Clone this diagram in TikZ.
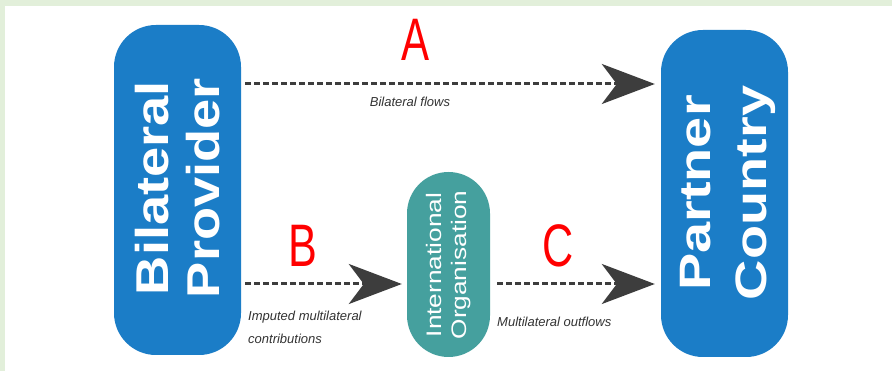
\documentclass[tikz,border=0pt]{standalone}
\usepackage{fontspec}
\setmainfont{Liberation Sans}
\usetikzlibrary{arrows.meta}
\definecolor{bggreen}{HTML}{E2EFDA}
\definecolor{boxblue}{HTML}{1B7DC7}
\definecolor{ioteal}{HTML}{45A09E}
\definecolor{arrowgray}{HTML}{3D3D3D}
\begin{document}
\begin{tikzpicture}[x=1pt,y=-1pt,
  box/.style={fill=boxblue, draw=none, rounded corners=42pt, inner sep=0pt},
  iobox/.style={fill=ioteal, draw=none, rounded corners=41.5pt, inner sep=0pt},
  bigtext/.style={text=white, rotate=90, align=center, inner sep=0pt, font=\fontsize{46}{51}\selectfont\bfseries},
  pctext/.style={text=white, rotate=90, align=center, inner sep=0pt, font=\fontsize{44}{56}\selectfont\bfseries},
  iotext/.style={text=white, rotate=90, align=center, inner sep=0pt, font=\fontsize{21}{25}\selectfont},
  flow/.style={draw=arrowgray, line width=3pt, dash pattern=on 6pt off 3pt, -{Stealth[length=53pt,width=40pt,inset=15pt]}},
  flowlabel/.style={text=black!80, inner sep=0pt, font=\fontsize{13}{15}\selectfont\itshape},
  letter/.style={text=red, inner sep=0pt, font=\fontsize{60}{60}\selectfont}]
\useasboundingbox (0,0) rectangle (892,371);
\fill[bggreen] (0,0) rectangle (892,371);
\fill[white] (5,6) rectangle (892,371);

\node[box, minimum width=127pt, minimum height=330pt] (BP) at (177.5,190) {};
\node[box, minimum width=127pt, minimum height=327pt] (PC) at (724.5,193.5) {};
\node[iobox, minimum width=83pt, minimum height=185pt] (IO) at (448.5,264.5) {};

\node[bigtext] (BPt) at (177.5,188) {\scalebox{1.18}[1]{Bilateral}\\\scalebox{1.18}[1]{Provider}};
\node[pctext] (PCt) at (728,193) {\scalebox{1.27}[1]{Partner}\\\scalebox{1.27}[1]{Country}};
\node[iotext] (IOt) at (448.5,265) {\scalebox{1.25}[1]{International}\\\scalebox{1.25}[1]{Organisation}};

\coordinate (ytop) at (0,84);
\coordinate (ybot) at (0,284);
\draw[flow, shorten <=4pt, shorten >=6pt] (BP.east |- ytop) -- (PC.west |- ytop);
\draw[flow, shorten <=4pt, shorten >=5pt] (BP.east |- ybot) -- (IO.west |- ybot);
\draw[flow, shorten <=7pt, shorten >=6pt] (IO.east |- ybot) -- (PC.west |- ybot);

\node[letter, anchor=base] (A) at (416,61) {\scalebox{0.7}[1]{A}};
\node[letter, anchor=base] (B) at (303,267) {\scalebox{0.72}[1]{B}};
\node[letter, anchor=base] (C) at (558,267) {\scalebox{0.72}[1]{C}};

\node[flowlabel, anchor=base] (lA) at (410,107) {Bilateral flows};
\node[flowlabel, anchor=base west] (lB1) at (248,321) {Imputed multilateral};
\node[flowlabel, anchor=base west] (lB2) at (248,344) {contributions};
\node[flowlabel, anchor=base west] (lC) at (497,327) {Multilateral outflows};
\end{tikzpicture}
\end{document}
